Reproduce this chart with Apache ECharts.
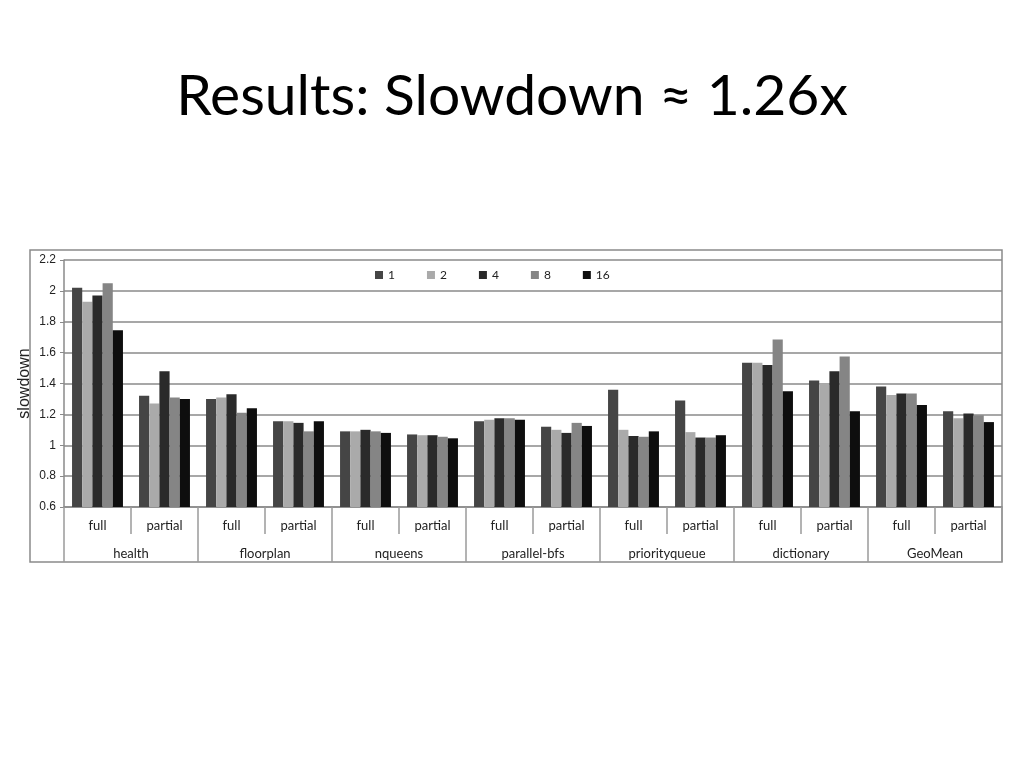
<!DOCTYPE html>
<html>
<head>
<meta charset="utf-8">
<script src="https://cdn.jsdelivr.net/npm/echarts@6/dist/echarts.min.js"></script>
<style>
html,body{margin:0;padding:0;background:#fff;}
#chart{width:1024px;height:768px;}
</style>
</head>
<body>
<div id="chart"></div>
<script>
const groups = ["health","floorplan","nqueens","parallel-bfs","priorityqueue","dictionary","GeoMean"];
const subCats = ["full","partial","full","partial","full","partial","full","partial","full","partial","full","partial","full","partial"];
const seriesNames = ["1","2","4","8","16"];
const s1  = [2.02,1.32,1.30,1.155,1.09,1.07,1.155,1.12,1.36,1.29,1.535,1.42,1.38,1.22];
const s2  = [1.93,1.27,1.31,1.155,1.09,1.065,1.165,1.10,1.10,1.085,1.535,1.40,1.325,1.175];
const s4  = [1.97,1.48,1.33,1.145,1.10,1.065,1.175,1.08,1.06,1.05,1.52,1.48,1.335,1.205];
const s8  = [2.05,1.31,1.21,1.09,1.09,1.055,1.175,1.145,1.055,1.05,1.685,1.575,1.335,1.195];
const s16 = [1.745,1.30,1.24,1.155,1.08,1.045,1.165,1.125,1.09,1.065,1.35,1.22,1.26,1.15];
const seriesData = [s1,s2,s4,s8,s16];
const colors = ["#454545","#aaaaaa","#2a2a2a","#858585","#0e0e0e"];

const chart = echarts.init(document.getElementById('chart'));
const labelFont = "Lato, 'Open Sans', sans-serif";
chart.setOption({
  animation:false,
  title:{text:"Results: Slowdown \u2248 1.26x",left:'center',top:63,
    textStyle:{fontFamily:labelFont,fontSize:57,fontWeight:'normal',color:'#000'}},
  legend:{data:seriesNames,left:370,top:264,icon:'rect',itemWidth:8,itemHeight:8,itemGap:32,
    textStyle:{fontFamily:labelFont,fontSize:12,color:'#222'}},
  graphic:[{type:'rect',shape:{x:30,y:250,width:972,height:312},style:{fill:'none',stroke:'#8a8a8a',lineWidth:1.5},silent:true}],
  grid:{left:64,right:22,top:260,bottom:261},
  xAxis:[
    {type:'category',data:subCats,position:'bottom',
     axisLine:{lineStyle:{color:'#8a8a8a',width:1.5}},
     axisTick:{show:true,interval:0,length:27,lineStyle:{color:'#9a9a9a',width:1.5}},
     axisLabel:{interval:0,margin:12,fontFamily:labelFont,fontSize:13,color:'#222'}},
    {type:'category',data:groups,position:'bottom',
     axisLine:{show:false},
     axisTick:{show:true,interval:0,length:55,lineStyle:{color:'#9a9a9a',width:1.5}},
     axisLabel:{interval:0,margin:40,fontFamily:labelFont,fontSize:13,color:'#222'}}
  ],
  yAxis:{type:'value',min:0.6,max:2.2,interval:0.2,
    name:'slowdown',nameLocation:'middle',nameGap:31,nameRotate:90,nameMoveOverlap:false,
    nameTextStyle:{fontFamily:"'Liberation Sans', Arial, sans-serif",fontSize:16,color:'#222'},
    axisLine:{show:true,lineStyle:{color:'#8a8a8a',width:1.5}},
    axisTick:{show:true,length:4,lineStyle:{color:'#8a8a8a'}},
    axisLabel:{margin:8,fontFamily:"'Liberation Sans', Arial, sans-serif",fontSize:12,color:'#222'},
    splitLine:{lineStyle:{color:'#8a8a8a',width:1.5}}},
  series: seriesNames.map((n,i)=>({
    name:n,type:'bar',xAxisIndex:0,data:seriesData[i],
    barGap:'0%',barCategoryGap:'24%',
    itemStyle:{color:colors[i]}
  }))
});
</script>
</body>
</html>
